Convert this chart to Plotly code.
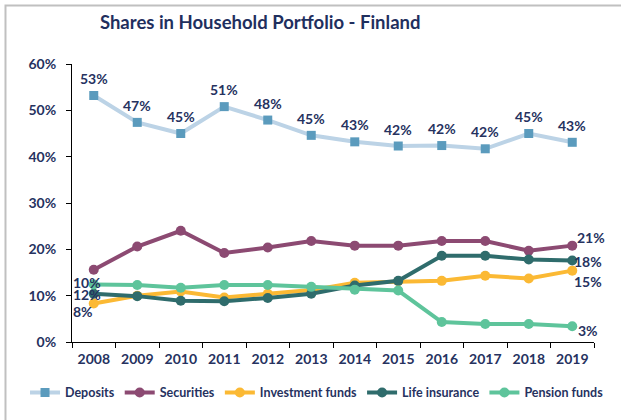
import plotly.graph_objects as go

# Household portfolio shares for Finland, in percent
years = [2008, 2009, 2010, 2011, 2012, 2013, 2014, 2015, 2016, 2017, 2018, 2019]
deposits = [53.2, 47.4, 45.0, 50.8, 47.9, 44.6, 43.2, 42.3, 42.4, 41.7, 45.0, 43.1]
securities = [15.6, 20.6, 24.0, 19.2, 20.4, 21.8, 20.8, 20.8, 21.8, 21.8, 19.7, 20.8]
investment_funds = [8.3, 10.0, 10.9, 9.6, 10.4, 11.2, 12.8, 13.1, 13.2, 14.3, 13.7, 15.4]
life_insurance = [10.4, 9.9, 8.9, 8.8, 9.5, 10.4, 12.2, 13.2, 18.6, 18.6, 17.8, 17.6]
pension_funds = [12.4, 12.3, 11.7, 12.3, 12.3, 11.9, 11.3, 11.1, 4.3, 3.9, 3.9, 3.4]

NAVY = "#26325f"
FONT = "Lato"

series = [
    ("Deposits", deposits, "#bcd3e6", "#5b9bbd", "square"),
    ("Securities", securities, "#8c4a72", "#8c4a72", "circle"),
    ("Investment funds", investment_funds, "#fbb934", "#fbb934", "circle"),
    ("Life insurance", life_insurance, "#2f6c6c", "#2f6c6c", "circle"),
    ("Pension funds", pension_funds, "#5ec49b", "#5ec49b", "circle"),
]

fig = go.Figure()
for name, vals, line_col, mark_col, sym in series:
    fig.add_trace(go.Scatter(
        x=years, y=vals, name=name, mode="lines+markers",
        line=dict(color=line_col, width=4),
        marker=dict(color=mark_col, size=10 if sym == "circle" else 9, symbol=sym),
    ))

annotations = []


def label(x, y, dx, dy):
    annotations.append(dict(
        x=x, y=y, xref="x", yref="y", text=f"{round(y)}%", showarrow=False,
        xshift=dx, yshift=dy, font=dict(family=FONT, size=14, color=NAVY, weight="bold"),
    ))


# Deposits: every point labelled above the marker
for yr, v in zip(years, deposits):
    label(yr, v, 0, 17)

# Other series: first and last values only
label(years[0], life_insurance[0], -7, 11)
label(years[0], pension_funds[0], -7, -10)
label(years[0], investment_funds[0], -11, -8)
label(years[-1], securities[-1], 19, 8)
label(years[-1], life_insurance[-1], 16, -1)
label(years[-1], investment_funds[-1], 16, -11)
label(years[-1], pension_funds[-1], 16, -4)

fig.update_layout(
    width=621, height=420,
    margin=dict(l=72, r=27, t=64, b=78),
    paper_bgcolor="white", plot_bgcolor="white",
    title=dict(text="<b>Shares in Household Portfolio - Finland</b>",
               xref="container", x=0.419, xanchor="center",
               yref="container", y=0.947, yanchor="middle",
               font=dict(family=FONT, size=18.5, color="#1f2f5e")),
    font=dict(family=FONT, color=NAVY),
    annotations=annotations,
    legend=dict(orientation="h", x=-0.09, xanchor="left", y=-0.183, yanchor="middle",
                font=dict(family=FONT, size=12.5, color=NAVY, weight="bold"),
                itemwidth=30, tracegroupgap=0, bgcolor="rgba(0,0,0,0)"),
    shapes=[dict(type="rect", xref="paper", yref="paper",
                 x0=-0.1274, x1=1.5, y0=-1.0, y1=1.2104,
                 line=dict(color="#c0c0c0", width=2), layer="below")],
)

fig.update_xaxes(
    range=[2007.5, 2019.5], tickmode="array", tickvals=years,
    showline=True, linecolor="black", linewidth=1,
    ticks="", showgrid=False, zeroline=False, ticklabelstandoff=4,
    minor=dict(ticks="outside", tickmode="linear", tick0=2007.5, dtick=1,
               ticklen=5, tickcolor="black", showgrid=False),
    tickfont=dict(family=FONT, size=14, color=NAVY, weight="bold"),
)
fig.update_yaxes(
    range=[0, 60], dtick=10, ticksuffix="%", showline=True, linecolor="black",
    linewidth=1, ticks="outside", ticklen=5, tickcolor="black",
    showgrid=False, zeroline=False, ticklabelstandoff=7,
    tickfont=dict(family=FONT, size=14, color=NAVY, weight="bold"),
)

fig.write_html("out.html")
